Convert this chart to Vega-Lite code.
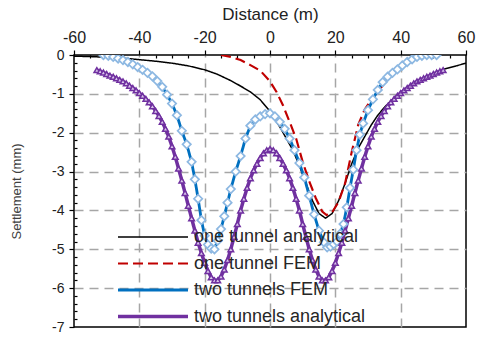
{
  "$schema": "https://vega.github.io/schema/vega-lite/v6.json",
  "width": 392,
  "height": 272,
  "autosize": "none",
  "padding": {"left": 74, "top": 55, "right": 11, "bottom": 11},
  "background": "white",
  "config": {
    "font": "Liberation Sans",
    "view": {"stroke": "#000000", "strokeWidth": 1.5},
    "axis": {"domain": false, "grid": true, "gridColor": "#a6a6a6", "gridDash": [9, 6], "gridWidth": 1.5, "tickColor": "#000000", "tickWidth": 1.2, "labelColor": "#222222", "titleColor": "#222222"}
  },
  "datasets": {
    "main": [
      {"series": "one tunnel analytical", "x": -60, "y": -0.03},
      {"series": "one tunnel analytical", "x": -55, "y": -0.04},
      {"series": "one tunnel analytical", "x": -50, "y": -0.06},
      {"series": "one tunnel analytical", "x": -45, "y": -0.08},
      {"series": "one tunnel analytical", "x": -40, "y": -0.12},
      {"series": "one tunnel analytical", "x": -35, "y": -0.16},
      {"series": "one tunnel analytical", "x": -30, "y": -0.21},
      {"series": "one tunnel analytical", "x": -25, "y": -0.28},
      {"series": "one tunnel analytical", "x": -20, "y": -0.38},
      {"series": "one tunnel analytical", "x": -16, "y": -0.5},
      {"series": "one tunnel analytical", "x": -12, "y": -0.66},
      {"series": "one tunnel analytical", "x": -9, "y": -0.8},
      {"series": "one tunnel analytical", "x": -6, "y": -0.95},
      {"series": "one tunnel analytical", "x": -3, "y": -1.15},
      {"series": "one tunnel analytical", "x": 0, "y": -1.45},
      {"series": "one tunnel analytical", "x": 3, "y": -1.85},
      {"series": "one tunnel analytical", "x": 5, "y": -2.15},
      {"series": "one tunnel analytical", "x": 7, "y": -2.45},
      {"series": "one tunnel analytical", "x": 9, "y": -2.85},
      {"series": "one tunnel analytical", "x": 11, "y": -3.3},
      {"series": "one tunnel analytical", "x": 13, "y": -3.75},
      {"series": "one tunnel analytical", "x": 15, "y": -4.08},
      {"series": "one tunnel analytical", "x": 17, "y": -4.2},
      {"series": "one tunnel analytical", "x": 19, "y": -4.08},
      {"series": "one tunnel analytical", "x": 21, "y": -3.75},
      {"series": "one tunnel analytical", "x": 23, "y": -3.3},
      {"series": "one tunnel analytical", "x": 25, "y": -2.8},
      {"series": "one tunnel analytical", "x": 27, "y": -2.4},
      {"series": "one tunnel analytical", "x": 29, "y": -2.1},
      {"series": "one tunnel analytical", "x": 31, "y": -1.8},
      {"series": "one tunnel analytical", "x": 33, "y": -1.55},
      {"series": "one tunnel analytical", "x": 35, "y": -1.35},
      {"series": "one tunnel analytical", "x": 37, "y": -1.18},
      {"series": "one tunnel analytical", "x": 40, "y": -0.97},
      {"series": "one tunnel analytical", "x": 43, "y": -0.79},
      {"series": "one tunnel analytical", "x": 46, "y": -0.64},
      {"series": "one tunnel analytical", "x": 50, "y": -0.49},
      {"series": "one tunnel analytical", "x": 53, "y": -0.37},
      {"series": "one tunnel analytical", "x": 57, "y": -0.28},
      {"series": "one tunnel analytical", "x": 60, "y": -0.21},

      {"series": "one tunnel FEM", "x": -15, "y": 0},
      {"series": "one tunnel FEM", "x": -12, "y": -0.05},
      {"series": "one tunnel FEM", "x": -9, "y": -0.13},
      {"series": "one tunnel FEM", "x": -6, "y": -0.26},
      {"series": "one tunnel FEM", "x": -3, "y": -0.4},
      {"series": "one tunnel FEM", "x": 0, "y": -0.68},
      {"series": "one tunnel FEM", "x": 2, "y": -0.95},
      {"series": "one tunnel FEM", "x": 4, "y": -1.3},
      {"series": "one tunnel FEM", "x": 6, "y": -1.72},
      {"series": "one tunnel FEM", "x": 8, "y": -2.15},
      {"series": "one tunnel FEM", "x": 10, "y": -2.75},
      {"series": "one tunnel FEM", "x": 12, "y": -3.25},
      {"series": "one tunnel FEM", "x": 14, "y": -3.68},
      {"series": "one tunnel FEM", "x": 16, "y": -4.03},
      {"series": "one tunnel FEM", "x": 17.3, "y": -4.12},
      {"series": "one tunnel FEM", "x": 19, "y": -4.05},
      {"series": "one tunnel FEM", "x": 21, "y": -3.78},
      {"series": "one tunnel FEM", "x": 23, "y": -3.3},
      {"series": "one tunnel FEM", "x": 25, "y": -2.5},
      {"series": "one tunnel FEM", "x": 27, "y": -1.8},
      {"series": "one tunnel FEM", "x": 29, "y": -1.4},
      {"series": "one tunnel FEM", "x": 31, "y": -1.15},
      {"series": "one tunnel FEM", "x": 33, "y": -0.95},
      {"series": "one tunnel FEM", "x": 36, "y": -0.62},
      {"series": "one tunnel FEM", "x": 39, "y": -0.38},
      {"series": "one tunnel FEM", "x": 42, "y": -0.18},
      {"series": "one tunnel FEM", "x": 45, "y": -0.07},
      {"series": "one tunnel FEM", "x": 48, "y": 0},

      {"series": "two tunnels FEM", "x": -51, "y": 0},
      {"series": "two tunnels FEM", "x": -49.5, "y": -0.02},
      {"series": "two tunnels FEM", "x": -48, "y": -0.05},
      {"series": "two tunnels FEM", "x": -46.5, "y": -0.09},
      {"series": "two tunnels FEM", "x": -45, "y": -0.13},
      {"series": "two tunnels FEM", "x": -43.5, "y": -0.18},
      {"series": "two tunnels FEM", "x": -42, "y": -0.24},
      {"series": "two tunnels FEM", "x": -40.5, "y": -0.31},
      {"series": "two tunnels FEM", "x": -39, "y": -0.38},
      {"series": "two tunnels FEM", "x": -37.5, "y": -0.46},
      {"series": "two tunnels FEM", "x": -36, "y": -0.55},
      {"series": "two tunnels FEM", "x": -34.5, "y": -0.67},
      {"series": "two tunnels FEM", "x": -33, "y": -0.82},
      {"series": "two tunnels FEM", "x": -31.5, "y": -1.02},
      {"series": "two tunnels FEM", "x": -30, "y": -1.25},
      {"series": "two tunnels FEM", "x": -28.5, "y": -1.55},
      {"series": "two tunnels FEM", "x": -27, "y": -1.95},
      {"series": "two tunnels FEM", "x": -25.5, "y": -2.3},
      {"series": "two tunnels FEM", "x": -24, "y": -2.75},
      {"series": "two tunnels FEM", "x": -23, "y": -3.2},
      {"series": "two tunnels FEM", "x": -22, "y": -3.7},
      {"series": "two tunnels FEM", "x": -21, "y": -4.25},
      {"series": "two tunnels FEM", "x": -20, "y": -4.65},
      {"series": "two tunnels FEM", "x": -19, "y": -4.88},
      {"series": "two tunnels FEM", "x": -18, "y": -4.98},
      {"series": "two tunnels FEM", "x": -17, "y": -5.0},
      {"series": "two tunnels FEM", "x": -16, "y": -4.78},
      {"series": "two tunnels FEM", "x": -15, "y": -4.48},
      {"series": "two tunnels FEM", "x": -14, "y": -4.15},
      {"series": "two tunnels FEM", "x": -13, "y": -3.8},
      {"series": "two tunnels FEM", "x": -12, "y": -3.45},
      {"series": "two tunnels FEM", "x": -10.5, "y": -3.0},
      {"series": "two tunnels FEM", "x": -9, "y": -2.6},
      {"series": "two tunnels FEM", "x": -7.5, "y": -2.15},
      {"series": "two tunnels FEM", "x": -6, "y": -1.82},
      {"series": "two tunnels FEM", "x": -4.5, "y": -1.66},
      {"series": "two tunnels FEM", "x": -3, "y": -1.58},
      {"series": "two tunnels FEM", "x": -1.5, "y": -1.52},
      {"series": "two tunnels FEM", "x": 0, "y": -1.5},
      {"series": "two tunnels FEM", "x": 1.5, "y": -1.58},
      {"series": "two tunnels FEM", "x": 3, "y": -1.72},
      {"series": "two tunnels FEM", "x": 4.5, "y": -1.9},
      {"series": "two tunnels FEM", "x": 6, "y": -2.15},
      {"series": "two tunnels FEM", "x": 7.5, "y": -2.45},
      {"series": "two tunnels FEM", "x": 9, "y": -2.78},
      {"series": "two tunnels FEM", "x": 10.5, "y": -3.15},
      {"series": "two tunnels FEM", "x": 12, "y": -3.62},
      {"series": "two tunnels FEM", "x": 13.5, "y": -4.1},
      {"series": "two tunnels FEM", "x": 15, "y": -4.52},
      {"series": "two tunnels FEM", "x": 16.5, "y": -4.82},
      {"series": "two tunnels FEM", "x": 17.5, "y": -4.95},
      {"series": "two tunnels FEM", "x": 18.5, "y": -4.93},
      {"series": "two tunnels FEM", "x": 19.5, "y": -4.87},
      {"series": "two tunnels FEM", "x": 20.5, "y": -4.8},
      {"series": "two tunnels FEM", "x": 21.5, "y": -4.6},
      {"series": "two tunnels FEM", "x": 22.5, "y": -4.35},
      {"series": "two tunnels FEM", "x": 23.5, "y": -3.92},
      {"series": "two tunnels FEM", "x": 24.5, "y": -3.42},
      {"series": "two tunnels FEM", "x": 25.5, "y": -2.95},
      {"series": "two tunnels FEM", "x": 26.5, "y": -2.45},
      {"series": "two tunnels FEM", "x": 27.5, "y": -2.05},
      {"series": "two tunnels FEM", "x": 28.5, "y": -1.76},
      {"series": "two tunnels FEM", "x": 30, "y": -1.42},
      {"series": "two tunnels FEM", "x": 31.5, "y": -1.14},
      {"series": "two tunnels FEM", "x": 33, "y": -0.9},
      {"series": "two tunnels FEM", "x": 34.5, "y": -0.7},
      {"series": "two tunnels FEM", "x": 36, "y": -0.56},
      {"series": "two tunnels FEM", "x": 37.5, "y": -0.46},
      {"series": "two tunnels FEM", "x": 39, "y": -0.37},
      {"series": "two tunnels FEM", "x": 40.5, "y": -0.27},
      {"series": "two tunnels FEM", "x": 42, "y": -0.18},
      {"series": "two tunnels FEM", "x": 43.5, "y": -0.11},
      {"series": "two tunnels FEM", "x": 45, "y": -0.05},
      {"series": "two tunnels FEM", "x": 46.5, "y": -0.02},
      {"series": "two tunnels FEM", "x": 48, "y": 0},
      {"series": "two tunnels FEM", "x": 49.5, "y": 0},
      {"series": "two tunnels FEM", "x": 51, "y": 0},

      {"series": "two tunnels analytical", "x": -53, "y": -0.39},
      {"series": "two tunnels analytical", "x": -52, "y": -0.42},
      {"series": "two tunnels analytical", "x": -51, "y": -0.45},
      {"series": "two tunnels analytical", "x": -50, "y": -0.49},
      {"series": "two tunnels analytical", "x": -49, "y": -0.53},
      {"series": "two tunnels analytical", "x": -48, "y": -0.56},
      {"series": "two tunnels analytical", "x": -47, "y": -0.6},
      {"series": "two tunnels analytical", "x": -46, "y": -0.64},
      {"series": "two tunnels analytical", "x": -45, "y": -0.68},
      {"series": "two tunnels analytical", "x": -44, "y": -0.73},
      {"series": "two tunnels analytical", "x": -43, "y": -0.79},
      {"series": "two tunnels analytical", "x": -42, "y": -0.85},
      {"series": "two tunnels analytical", "x": -41, "y": -0.91},
      {"series": "two tunnels analytical", "x": -40, "y": -0.98},
      {"series": "two tunnels analytical", "x": -39, "y": -1.05},
      {"series": "two tunnels analytical", "x": -38, "y": -1.13},
      {"series": "two tunnels analytical", "x": -37, "y": -1.22},
      {"series": "two tunnels analytical", "x": -36, "y": -1.32},
      {"series": "two tunnels analytical", "x": -35, "y": -1.44},
      {"series": "two tunnels analytical", "x": -34, "y": -1.57},
      {"series": "two tunnels analytical", "x": -33, "y": -1.72},
      {"series": "two tunnels analytical", "x": -32, "y": -1.9},
      {"series": "two tunnels analytical", "x": -31, "y": -2.1},
      {"series": "two tunnels analytical", "x": -30, "y": -2.35},
      {"series": "two tunnels analytical", "x": -29, "y": -2.62},
      {"series": "two tunnels analytical", "x": -28, "y": -2.92},
      {"series": "two tunnels analytical", "x": -27, "y": -3.23},
      {"series": "two tunnels analytical", "x": -26, "y": -3.55},
      {"series": "two tunnels analytical", "x": -25, "y": -3.88},
      {"series": "two tunnels analytical", "x": -24, "y": -4.2},
      {"series": "two tunnels analytical", "x": -23, "y": -4.52},
      {"series": "two tunnels analytical", "x": -22, "y": -4.83},
      {"series": "two tunnels analytical", "x": -21, "y": -5.1},
      {"series": "two tunnels analytical", "x": -20, "y": -5.35},
      {"series": "two tunnels analytical", "x": -19, "y": -5.56},
      {"series": "two tunnels analytical", "x": -18, "y": -5.72},
      {"series": "two tunnels analytical", "x": -17, "y": -5.8},
      {"series": "two tunnels analytical", "x": -16, "y": -5.8},
      {"series": "two tunnels analytical", "x": -15, "y": -5.7},
      {"series": "two tunnels analytical", "x": -14, "y": -5.52},
      {"series": "two tunnels analytical", "x": -13, "y": -5.28},
      {"series": "two tunnels analytical", "x": -12, "y": -5.0},
      {"series": "two tunnels analytical", "x": -11, "y": -4.68},
      {"series": "two tunnels analytical", "x": -10, "y": -4.35},
      {"series": "two tunnels analytical", "x": -9, "y": -4.0},
      {"series": "two tunnels analytical", "x": -8, "y": -3.7},
      {"series": "two tunnels analytical", "x": -7, "y": -3.42},
      {"series": "two tunnels analytical", "x": -6, "y": -3.17},
      {"series": "two tunnels analytical", "x": -5, "y": -2.97},
      {"series": "two tunnels analytical", "x": -4, "y": -2.8},
      {"series": "two tunnels analytical", "x": -3, "y": -2.65},
      {"series": "two tunnels analytical", "x": -2, "y": -2.53},
      {"series": "two tunnels analytical", "x": -1, "y": -2.45},
      {"series": "two tunnels analytical", "x": 0, "y": -2.42},
      {"series": "two tunnels analytical", "x": 1, "y": -2.45},
      {"series": "two tunnels analytical", "x": 2, "y": -2.53},
      {"series": "two tunnels analytical", "x": 3, "y": -2.65},
      {"series": "two tunnels analytical", "x": 4, "y": -2.8},
      {"series": "two tunnels analytical", "x": 5, "y": -2.97},
      {"series": "two tunnels analytical", "x": 6, "y": -3.17},
      {"series": "two tunnels analytical", "x": 7, "y": -3.42},
      {"series": "two tunnels analytical", "x": 8, "y": -3.7},
      {"series": "two tunnels analytical", "x": 9, "y": -4.0},
      {"series": "two tunnels analytical", "x": 10, "y": -4.35},
      {"series": "two tunnels analytical", "x": 11, "y": -4.68},
      {"series": "two tunnels analytical", "x": 12, "y": -5.0},
      {"series": "two tunnels analytical", "x": 13, "y": -5.28},
      {"series": "two tunnels analytical", "x": 14, "y": -5.52},
      {"series": "two tunnels analytical", "x": 15, "y": -5.7},
      {"series": "two tunnels analytical", "x": 16, "y": -5.8},
      {"series": "two tunnels analytical", "x": 17, "y": -5.8},
      {"series": "two tunnels analytical", "x": 18, "y": -5.72},
      {"series": "two tunnels analytical", "x": 19, "y": -5.56},
      {"series": "two tunnels analytical", "x": 20, "y": -5.35},
      {"series": "two tunnels analytical", "x": 21, "y": -5.1},
      {"series": "two tunnels analytical", "x": 22, "y": -4.83},
      {"series": "two tunnels analytical", "x": 23, "y": -4.52},
      {"series": "two tunnels analytical", "x": 24, "y": -4.2},
      {"series": "two tunnels analytical", "x": 25, "y": -3.88},
      {"series": "two tunnels analytical", "x": 26, "y": -3.55},
      {"series": "two tunnels analytical", "x": 27, "y": -3.23},
      {"series": "two tunnels analytical", "x": 28, "y": -2.92},
      {"series": "two tunnels analytical", "x": 29, "y": -2.62},
      {"series": "two tunnels analytical", "x": 30, "y": -2.35},
      {"series": "two tunnels analytical", "x": 31, "y": -2.1},
      {"series": "two tunnels analytical", "x": 32, "y": -1.9},
      {"series": "two tunnels analytical", "x": 33, "y": -1.72},
      {"series": "two tunnels analytical", "x": 34, "y": -1.57},
      {"series": "two tunnels analytical", "x": 35, "y": -1.44},
      {"series": "two tunnels analytical", "x": 36, "y": -1.32},
      {"series": "two tunnels analytical", "x": 37, "y": -1.22},
      {"series": "two tunnels analytical", "x": 38, "y": -1.13},
      {"series": "two tunnels analytical", "x": 39, "y": -1.05},
      {"series": "two tunnels analytical", "x": 40, "y": -0.98},
      {"series": "two tunnels analytical", "x": 41, "y": -0.91},
      {"series": "two tunnels analytical", "x": 42, "y": -0.85},
      {"series": "two tunnels analytical", "x": 43, "y": -0.79},
      {"series": "two tunnels analytical", "x": 44, "y": -0.73},
      {"series": "two tunnels analytical", "x": 45, "y": -0.68},
      {"series": "two tunnels analytical", "x": 46, "y": -0.64},
      {"series": "two tunnels analytical", "x": 47, "y": -0.6},
      {"series": "two tunnels analytical", "x": 48, "y": -0.56},
      {"series": "two tunnels analytical", "x": 49, "y": -0.53},
      {"series": "two tunnels analytical", "x": 50, "y": -0.49},
      {"series": "two tunnels analytical", "x": 51, "y": -0.45},
      {"series": "two tunnels analytical", "x": 52, "y": -0.42},
      {"series": "two tunnels analytical", "x": 53, "y": -0.39}
    ]
  },
  "data": {"name": "main"},
  "encoding": {
    "x": {
      "field": "x", "type": "quantitative",
      "scale": {"domain": [-60, 60], "nice": false, "zero": false},
      "axis": {
        "orient": "top",
        "values": [-60, -55, -50, -45, -40, -35, -30, -25, -20, -15, -10, -5, 0, 5, 10, 15, 20, 25, 30, 35, 40, 45, 50, 55, 60],
        "title": "Distance (m)", "titleFontSize": 17, "titleFontWeight": "normal", "titlePadding": 6,
        "labelFontSize": 16, "labelPadding": 5, "labelFlush": false,
        "labelExpr": "datum.value % 20 == 0 ? '' + datum.value : ''",
        "tickSize": {"condition": {"test": "datum.value % 20 == 0", "value": 5}, "value": -3},
        "gridOpacity": {"condition": {"test": "datum.value % 20 == 0 && abs(datum.value) < 60", "value": 1}, "value": 0}
      }
    },
    "y": {
      "field": "y", "type": "quantitative",
      "scale": {"domain": [-7, 0], "nice": false, "zero": false},
      "axis": {
        "values": [-7, -6.8, -6.6, -6.4, -6.2, -6, -5.8, -5.6, -5.4, -5.2, -5, -4.8, -4.6, -4.4, -4.2, -4, -3.8, -3.6, -3.4, -3.2, -3, -2.8, -2.6, -2.4, -2.2, -2, -1.8, -1.6, -1.4, -1.2, -1, -0.8, -0.6, -0.4, -0.2, 0],
        "title": "Settlement (mm)", "titleFontSize": 13, "titleFontWeight": "normal", "titleColor": "#404040", "titlePadding": 28,
        "labelFontSize": 14, "labelPadding": 5,
        "labelExpr": "abs(datum.value - round(datum.value)) < 0.01 ? '' + round(datum.value) : ''",
        "tickSize": {"condition": {"test": "abs(datum.value - round(datum.value)) < 0.01", "value": 5}, "value": -3},
        "gridOpacity": {"condition": {"test": "abs(datum.value - round(datum.value)) < 0.01 && datum.value > -6.5 && datum.value < -0.5", "value": 1}, "value": 0}
      }
    }
  },
  "layer": [
    {
      "mark": {"type": "line", "clip": true},
      "encoding": {
        "color": {
          "field": "series", "type": "nominal",
          "scale": {"domain": ["one tunnel analytical", "one tunnel FEM", "two tunnels FEM", "two tunnels analytical"], "range": ["#000000", "#c00000", "#0070c0", "#7030a0"]},
          "legend": {"title": null, "orient": "none", "legendX": 70, "legendY": 173, "symbolType": "M-5,0H5", "symbolSize": 196, "labelOffset": 32, "labelFontSize": 18, "labelLimit": 400, "labelColor": "#262626", "rowPadding": 8.5, "padding": 0}
        },
        "strokeDash": {
          "field": "series", "type": "nominal",
          "scale": {"domain": ["one tunnel analytical", "one tunnel FEM", "two tunnels FEM", "two tunnels analytical"], "range": [[1, 0], [10, 5], [1, 0], [1, 0]]},
          "legend": {"title": null}
        },
        "strokeWidth": {
          "field": "series", "type": "nominal",
          "scale": {"domain": ["one tunnel analytical", "one tunnel FEM", "two tunnels FEM", "two tunnels analytical"], "range": [1.5, 3.5, 5.5, 3]},
          "legend": {"title": null}
        },
        "order": {"field": "x", "type": "quantitative"}
      }
    },
    {
      "transform": [{"filter": "datum.series == 'two tunnels FEM'"}],
      "mark": {"type": "point", "shape": "diamond", "size": 70, "filled": true, "fill": "#ffffff", "stroke": "#8db8e2", "strokeWidth": 1.7, "opacity": 1, "clip": true}
    },
    {
      "transform": [{"filter": "datum.series == 'two tunnels analytical'"}],
      "mark": {"type": "point", "shape": "triangle-up", "size": 32, "filled": true, "fill": "#d9c6ea", "stroke": "#7030a0", "strokeWidth": 1.5, "opacity": 1, "clip": true}
    }
  ]
}
